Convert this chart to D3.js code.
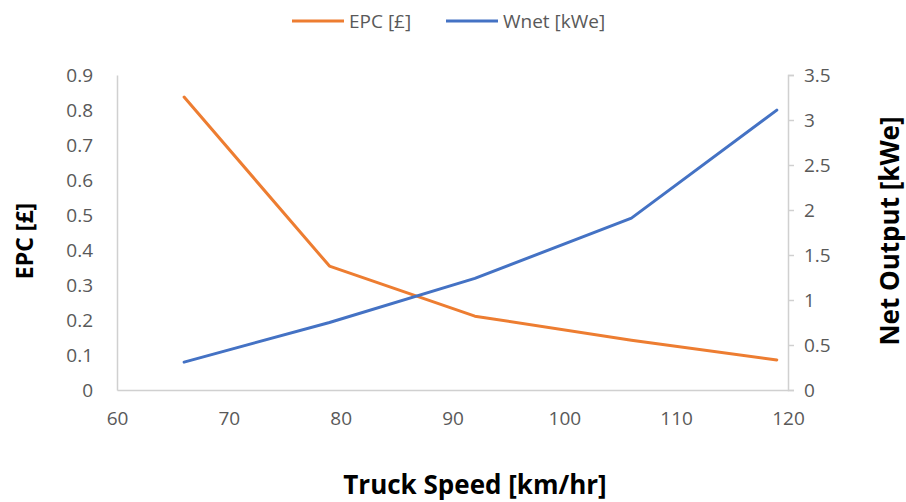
<!DOCTYPE html>
<html>
<head>
<meta charset="utf-8">
<script src="https://cdn.jsdelivr.net/npm/d3@7"></script>
<style>
  html, body { margin: 0; padding: 0; background: #fff; }
  svg { display: block; }
</style>
</head>
<body>
<svg id="chart" width="906" height="502"></svg>
<script>
// Truck speed (km/hr) at each operating point
const speeds = [66, 79, 92, 106, 119];
// Electricity production cost (£)
const epcValues = [0.837, 0.354, 0.211, 0.142, 0.086];
// Net electrical output (kWe)
const wnetValues = [0.31, 0.75, 1.24, 1.91, 3.11];

const xTicks = [60, 70, 80, 90, 100, 110, 120];
const leftTicks = [0, 0.1, 0.2, 0.3, 0.4, 0.5, 0.6, 0.7, 0.8, 0.9];
const rightTicks = [0, 0.5, 1, 1.5, 2, 2.5, 3, 3.5];

const seriesNames = ["EPC [£]", "Wnet [kWe]"];
const seriesColors = ["#ED7D31", "#4472C4"];

const svg = d3.select("#chart");
const font = "'Open Sans', sans-serif";
const tickColor = "#595959";
const axisColor = "#d0d0d0";

const plot = { left: 117, right: 788, top: 75, bottom: 390 };

const x = d3.scaleLinear().domain([60, 120]).range([plot.left, plot.right]);
const yL = d3.scaleLinear().domain([0, 0.9]).range([plot.bottom, plot.top]);
const yR = d3.scaleLinear().domain([0, 3.5]).range([plot.bottom, plot.top]);

// Left axis (no tick marks)
const gL = svg.append("g").attr("transform", `translate(${plot.left},0)`)
  .call(d3.axisLeft(yL).tickValues(leftTicks).tickSize(0).tickPadding(24)
    .tickFormat(d => String(+d.toFixed(1))));
// Bottom axis (no tick marks)
const gB = svg.append("g").attr("transform", `translate(0,${plot.bottom})`)
  .call(d3.axisBottom(x).tickValues(xTicks).tickSize(0).tickPadding(22));
// Right axis with outward tick marks
const gR = svg.append("g").attr("transform", `translate(${plot.right},0)`)
  .call(d3.axisRight(yR).tickValues(rightTicks).tickSize(6).tickPadding(10)
    .tickFormat(d => String(d)));

[gL, gB, gR].forEach(g => {
  g.selectAll(".domain").attr("stroke", axisColor).attr("stroke-width", 1.5);
  g.selectAll(".tick line").attr("stroke", axisColor).attr("stroke-width", 1.5);
  g.selectAll("text").attr("fill", tickColor).style("font-family", font).style("font-size", "19px");
});

// Series lines
const lineL = d3.line().x((d, i) => x(speeds[i])).y(d => yL(d));
const lineR = d3.line().x((d, i) => x(speeds[i])).y(d => yR(d));

svg.append("path").datum(epcValues).attr("d", lineL)
  .attr("fill", "none").attr("stroke", seriesColors[0]).attr("stroke-width", 3)
  .attr("stroke-linejoin", "round").attr("stroke-linecap", "round");
svg.append("path").datum(wnetValues).attr("d", lineR)
  .attr("fill", "none").attr("stroke", seriesColors[1]).attr("stroke-width", 3)
  .attr("stroke-linejoin", "round").attr("stroke-linecap", "round");

// Axis titles
svg.append("text").attr("x", 475).attr("y", 494).attr("text-anchor", "middle")
  .style("font-family", font).style("font-size", "26px").style("font-weight", "bold")
  .attr("fill", "#000").text("Truck Speed [km/hr]");
svg.append("text").attr("transform", "translate(33,241) rotate(-90)").attr("text-anchor", "middle")
  .style("font-family", font).style("font-size", "23px").style("font-weight", "bold")
  .attr("fill", "#000").text("EPC [£]");
svg.append("text").attr("transform", "translate(899,231) rotate(-90)").attr("text-anchor", "middle")
  .style("font-family", font).style("font-size", "26px").style("font-weight", "bold")
  .attr("fill", "#000").text("Net Output [kWe]");

// Legend
const legendX = [292, 446];
seriesNames.forEach((name, i) => {
  const g = svg.append("g").attr("transform", `translate(${legendX[i]},21)`);
  g.append("line").attr("x1", 0).attr("x2", 52).attr("y1", 0).attr("y2", 0)
    .attr("stroke", seriesColors[i]).attr("stroke-width", 3);
  g.append("text").attr("x", 57).attr("y", 7)
    .style("font-family", font).style("font-size", "19px").attr("fill", tickColor).text(name);
});
</script>
</body>
</html>
